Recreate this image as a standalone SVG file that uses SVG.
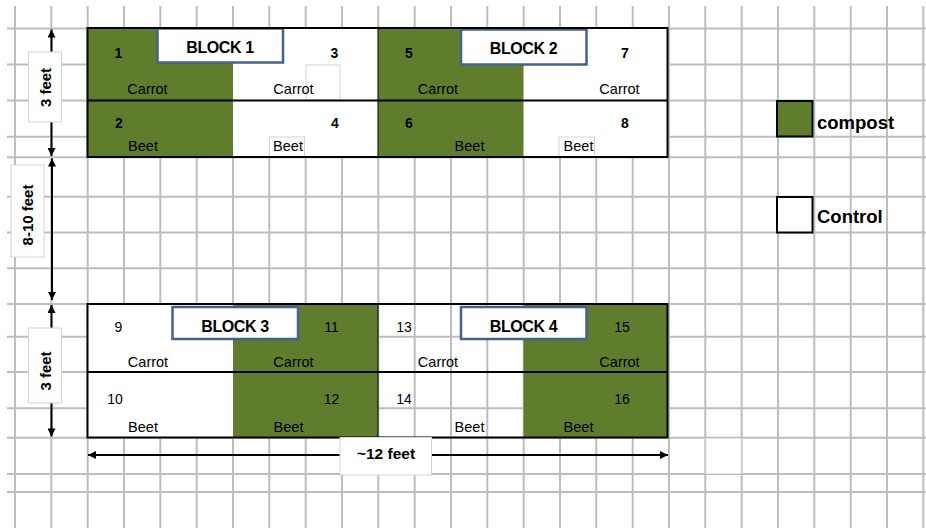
<svg xmlns="http://www.w3.org/2000/svg" width="926" height="528" viewBox="0 0 926 528">
<defs>
<style>
.grid line{stroke:#bdbdbd;stroke-width:2}
.green{fill:#5f7d2d}
.white{fill:#ffffff}
.outline{fill:none;stroke:#000;stroke-width:2}
.div{stroke:#000;stroke-width:2}
.sep{stroke:#000;stroke-width:1}
.blk{fill:#fff;stroke:#45618d;stroke-width:2.5}
.blkt{font-family:"Liberation Sans",Arial,sans-serif;font-size:16px;font-weight:bold;fill:#000;text-anchor:middle;letter-spacing:-0.4px}
.num{font-family:"Liberation Sans",Arial,sans-serif;font-size:14px;font-weight:bold;fill:#000;text-anchor:middle}
.numr{font-family:"Liberation Sans",Arial,sans-serif;font-size:14px;fill:#000;text-anchor:middle}
.lbl{font-family:"Liberation Sans",Arial,sans-serif;font-size:14.5px;fill:#000;text-anchor:middle}
.tb{fill:#fff;stroke:#d4d4d4;stroke-width:1}
.leg{font-family:"Liberation Sans",Arial,sans-serif;font-size:18.5px;font-weight:bold;fill:#000}
.dim{font-family:"Liberation Sans",Arial,sans-serif;font-size:15px;font-weight:bold;fill:#000;text-anchor:middle}
.arr{stroke:#000;stroke-width:2;fill:none;marker-start:url(#ah);marker-end:url(#ah)}
</style>
<marker id="ah" viewBox="0 0 10 10" refX="10" refY="5" markerWidth="9" markerHeight="8" markerUnits="userSpaceOnUse" orient="auto-start-reverse">
<path d="M0,0 L10,5 L0,10 z" fill="#000"/>
</marker>
</defs>
<rect width="926" height="528" fill="#fff"/>
<g id="grid" class="grid">
<line x1="15" y1="6" x2="15" y2="528"/>
<line x1="51.3" y1="6" x2="51.3" y2="528"/>
<line x1="87.7" y1="6" x2="87.7" y2="528"/>
<line x1="124" y1="6" x2="124" y2="528"/>
<line x1="160.3" y1="6" x2="160.3" y2="528"/>
<line x1="196.7" y1="6" x2="196.7" y2="528"/>
<line x1="233" y1="6" x2="233" y2="528"/>
<line x1="269.3" y1="6" x2="269.3" y2="528"/>
<line x1="305.7" y1="6" x2="305.7" y2="528"/>
<line x1="342" y1="6" x2="342" y2="528"/>
<line x1="378.3" y1="6" x2="378.3" y2="528"/>
<line x1="414.7" y1="6" x2="414.7" y2="528"/>
<line x1="451" y1="6" x2="451" y2="528"/>
<line x1="487.3" y1="6" x2="487.3" y2="528"/>
<line x1="523.7" y1="6" x2="523.7" y2="528"/>
<line x1="560" y1="6" x2="560" y2="528"/>
<line x1="596.3" y1="6" x2="596.3" y2="528"/>
<line x1="632.7" y1="6" x2="632.7" y2="528"/>
<line x1="669" y1="6" x2="669" y2="528"/>
<line x1="705.3" y1="6" x2="705.3" y2="528"/>
<line x1="741.7" y1="6" x2="741.7" y2="528"/>
<line x1="778" y1="6" x2="778" y2="528"/>
<line x1="814.3" y1="6" x2="814.3" y2="528"/>
<line x1="850.7" y1="6" x2="850.7" y2="528"/>
<line x1="887" y1="6" x2="887" y2="528"/>
<line x1="923.3" y1="6" x2="923.3" y2="528"/>
<line x1="7" y1="28.5" x2="926" y2="28.5"/>
<line x1="7" y1="64.5" x2="926" y2="64.5"/>
<line x1="7" y1="100.5" x2="926" y2="100.5"/>
<line x1="7" y1="136.7" x2="926" y2="136.7"/>
<line x1="7" y1="157.3" x2="926" y2="157.3"/>
<line x1="7" y1="196.7" x2="926" y2="196.7"/>
<line x1="7" y1="232.5" x2="926" y2="232.5"/>
<line x1="7" y1="268.3" x2="926" y2="268.3"/>
<line x1="7" y1="304" x2="926" y2="304"/>
<line x1="7" y1="336.7" x2="926" y2="336.7"/>
<line x1="7" y1="372" x2="926" y2="372"/>
<line x1="7" y1="408.3" x2="926" y2="408.3"/>
<line x1="7" y1="437.7" x2="926" y2="437.7"/>
<line x1="7" y1="474" x2="926" y2="474"/>
<line x1="7" y1="492" x2="926" y2="492"/>
</g>
<rect x="706" y="438.5" width="35" height="35" fill="#fff" stroke="#e6e6e6" stroke-width="1"/>

<g id="block1">
<rect class="white" x="87.5" y="28" width="290.5" height="129"/>
<rect class="green" x="87.5" y="28" width="145.5" height="129"/>
<rect class="tb" x="306" y="65" width="34" height="35"/>
<rect class="tb" x="269.5" y="137" width="35" height="20"/>
<rect class="blk" x="157.5" y="28.5" width="125.5" height="34"/>
<text class="blkt" x="220" y="53">BLOCK 1</text>
<text class="num" x="118.5" y="58">1</text>
<text class="num" x="334.5" y="58">3</text>
<text class="num" x="119" y="128">2</text>
<text class="num" x="335" y="128">4</text>
<text class="lbl" x="147.5" y="94">Carrot</text>
<text class="lbl" x="293.5" y="94">Carrot</text>
<text class="lbl" x="143" y="151">Beet</text>
<text class="lbl" x="288" y="151">Beet</text>
</g>

<g id="block2">
<rect class="white" x="378" y="28" width="289.5" height="129"/>
<rect class="green" x="378" y="28" width="145.5" height="129"/>
<rect class="tb" x="559" y="137" width="35.5" height="20"/>
<rect class="blk" x="461" y="29.5" width="125.5" height="35"/>
<text class="blkt" x="523.5" y="54">BLOCK 2</text>
<text class="num" x="409" y="58">5</text>
<text class="num" x="625" y="58">7</text>
<text class="num" x="409" y="128">6</text>
<text class="num" x="625" y="128">8</text>
<text class="lbl" x="438" y="94">Carrot</text>
<text class="lbl" x="619.5" y="94">Carrot</text>
<text class="lbl" x="469.5" y="151">Beet</text>
<text class="lbl" x="578.5" y="151">Beet</text>
</g>

<g id="block3">
<rect class="white" x="87.5" y="304" width="145.5" height="133.5"/>
<rect class="green" x="233" y="304" width="145" height="133.5"/>
<rect class="blk" x="172.5" y="307" width="125.5" height="32"/>
<text class="blkt" x="235" y="332">BLOCK 3</text>
<text class="numr" x="118.5" y="332">9</text>
<text class="numr" x="331.5" y="332">11</text>
<text class="numr" x="115" y="404">10</text>
<text class="numr" x="331.5" y="404">12</text>
<text class="lbl" x="148" y="367">Carrot</text>
<text class="lbl" x="293.5" y="367">Carrot</text>
<text class="lbl" x="143" y="432">Beet</text>
<text class="lbl" x="288.5" y="432">Beet</text>
</g>

<g id="block4">
<rect class="green" x="523.5" y="304" width="144" height="133.5"/>
<rect class="blk" x="461" y="307" width="125.5" height="32"/>
<text class="blkt" x="523.5" y="332">BLOCK 4</text>
<text class="numr" x="404" y="332">13</text>
<text class="numr" x="622" y="332">15</text>
<text class="numr" x="404" y="404">14</text>
<text class="numr" x="622" y="404">16</text>
<text class="lbl" x="438" y="367">Carrot</text>
<text class="lbl" x="619.5" y="367">Carrot</text>
<text class="lbl" x="469.5" y="432">Beet</text>
<text class="lbl" x="578.5" y="432">Beet</text>
</g>

<g id="plot-borders">
<rect class="outline" x="87.5" y="28" width="580" height="129"/>
<line class="div" x1="87.5" y1="100.5" x2="667.5" y2="100.5"/>
<line class="sep" x1="378" y1="28" x2="378" y2="157"/>
<rect class="outline" x="87.5" y="304" width="580" height="133.5"/>
<line class="div" x1="87.5" y1="372" x2="667.5" y2="372"/>
<line class="sep" x1="378" y1="304" x2="378" y2="437.5"/>
</g>

<g id="legend">
<g id="legend-compost">
<rect x="777" y="101" width="35.5" height="35.5" fill="#5f7d2d" stroke="#000" stroke-width="2"/>
<text class="leg" x="817" y="129">compost</text>
</g>
<g id="legend-control">
<rect x="777" y="197" width="35.5" height="35.5" fill="#fff" stroke="#000" stroke-width="2"/>
<text class="leg" x="817" y="223">Control</text>
</g>
</g>

<g id="connectors">
<line class="arr" x1="51.5" y1="29.5" x2="51.5" y2="156"/>
<line class="arr" x1="52" y1="158.5" x2="52" y2="300"/>
<line class="arr" x1="51.5" y1="305" x2="51.5" y2="436.5"/>
<line class="arr" x1="88" y1="455" x2="668" y2="455"/>
</g>

<g id="dim-labels">
<g id="label-3ft-top">
<rect class="tb" x="28.5" y="52" width="33" height="70"/>
<text class="dim" transform="translate(45.5,87.5) rotate(-90)" y="5.5">3 feet</text>
</g>
<g id="label-8-10ft">
<rect class="tb" x="11" y="165" width="33" height="92"/>
<text class="dim" transform="translate(27.5,215) rotate(-90)" y="5.5">8-10 feet</text>
</g>
<g id="label-3ft-bottom">
<rect class="tb" x="28.5" y="328" width="33" height="75"/>
<text class="dim" transform="translate(45.5,371) rotate(-90)" y="5.5">3 feet</text>
</g>
<g id="label-12ft">
<rect class="tb" x="340" y="437.5" width="91.5" height="37.5"/>
<text class="dim" x="386" y="459" style="font-size:15.5px">~12 feet</text>
</g>
</g>
</svg>
